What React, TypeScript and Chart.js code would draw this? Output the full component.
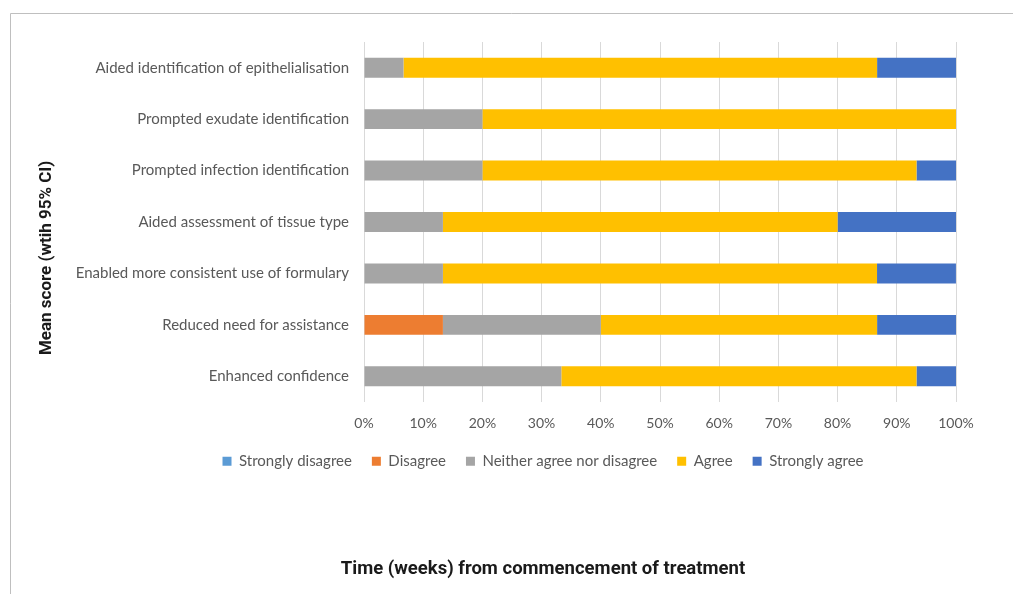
import React, { useEffect, useRef } from "react";
import { Chart, registerables } from "chart.js";

Chart.register(...registerables);

const categories = [
  "Aided identification of epithelialisation",
  "Prompted exudate identification",
  "Prompted infection identification",
  "Aided assessment of tissue type",
  "Enabled more consistent use of formulary",
  "Reduced need for assistance",
  "Enhanced confidence",
];

const stronglyDisagree = [0, 0, 0, 0, 0, 0, 0];
const disagree = [0, 0, 0, 0, 0, 13.33, 0];
const neither = [6.67, 20, 20, 13.33, 13.33, 26.67, 33.33];
const agree = [80, 80, 73.33, 66.67, 73.33, 46.67, 60];
const stronglyAgree = [13.33, 0, 6.67, 20, 13.33, 13.33, 6.67];

const xTickLabels = ["0%", "10%", "20%", "30%", "40%", "50%", "60%", "70%", "80%", "90%", "100%"];

const seriesNames = ["Strongly disagree", "Disagree", "Neither agree nor disagree", "Agree", "Strongly agree"];
const seriesColors = ["#5B9BD5", "#ED7D31", "#A5A5A5", "#FFC000", "#4472C4"];

const framePlugin = {
  id: "frame",
  beforeDraw(chart: any) {
    const ctx = chart.ctx;
    ctx.save();
    ctx.strokeStyle = "#bfbfbf";
    ctx.lineWidth = 1;
    ctx.beginPath();
    ctx.moveTo(10.5, chart.height);
    ctx.lineTo(10.5, 13.5);
    ctx.lineTo(chart.width, 13.5);
    ctx.stroke();
    ctx.restore();
  },
};

export default function App() {
  const ref = useRef<HTMLCanvasElement>(null);

  useEffect(() => {
    if (!ref.current) return;
    const values = [stronglyDisagree, disagree, neither, agree, stronglyAgree];
    const labelFont = { family: "Lato", size: 15 };
    const chart = new Chart(ref.current, {
      type: "bar",
      data: {
        labels: categories,
        datasets: seriesNames.map((name, i) => ({
          label: name,
          data: values[i],
          backgroundColor: seriesColors[i],
          borderWidth: 0,
          categoryPercentage: 0.388,
          barPercentage: 1,
        })),
      },
      options: {
        indexAxis: "y",
        responsive: false,
        animation: false,
        layout: { padding: { left: 73, right: 0, top: 42, bottom: 0 } },
        scales: {
          x: {
            stacked: true,
            min: 0,
            max: 100,
            ticks: {
              stepSize: 10,
              padding: 13,
              color: "#595959",
              font: { family: "Lato", size: 14 },
              callback: (_v: any, i: number) => xTickLabels[i],
            },
            grid: { color: "#d9d9d9", drawTicks: false },
            border: { display: false },
            afterFit: (s: any) => {
              s.height = s.height - 11;
            },
          },
          y: {
            stacked: true,
            grid: { display: false, drawTicks: false },
            border: { display: false },
            ticks: { padding: 15, color: "#595959", font: labelFont },
            title: {
              display: true,
              text: "Mean score (wtih 95% CI)                 ",
              color: "#1a1a1a",
              font: { family: "Roboto", size: 17, weight: "bold" },
              padding: { top: -36, bottom: 0 },
            },
            afterFit: (s: any) => {
              s.width = 291;
            },
          },
          yRight: {
            type: "category",
            labels: categories,
            position: "right",
            grid: { display: false, drawTicks: false },
            border: { display: false },
            ticks: { display: false },
            afterFit: (s: any) => {
              s.width = 57;
            },
          },
        },
        plugins: {
          legend: {
            position: "bottom",
            labels: {
              boxWidth: 9,
              boxHeight: 9,
              padding: 20,
              color: "#595959",
              font: labelFont,
            },
          },
          title: {
            display: true,
            position: "bottom",
            text: "Time (weeks) from commencement of treatment",
            color: "#1a1a1a",
            font: { family: "Roboto", size: 18.5, weight: "bold" },
            padding: { top: 79, bottom: 14 },
          },
          tooltip: { enabled: false },
        },
      },
      plugins: [framePlugin],
    } as any);
    return () => chart.destroy();
  }, []);

  return (
    <div style={{ position: "absolute", left: 0, top: 0, width: 1013, height: 594, background: "#fff" }}>
      <canvas ref={ref} width={1013} height={594} style={{ width: 1013, height: 594, display: "block" }} />
    </div>
  );
}
